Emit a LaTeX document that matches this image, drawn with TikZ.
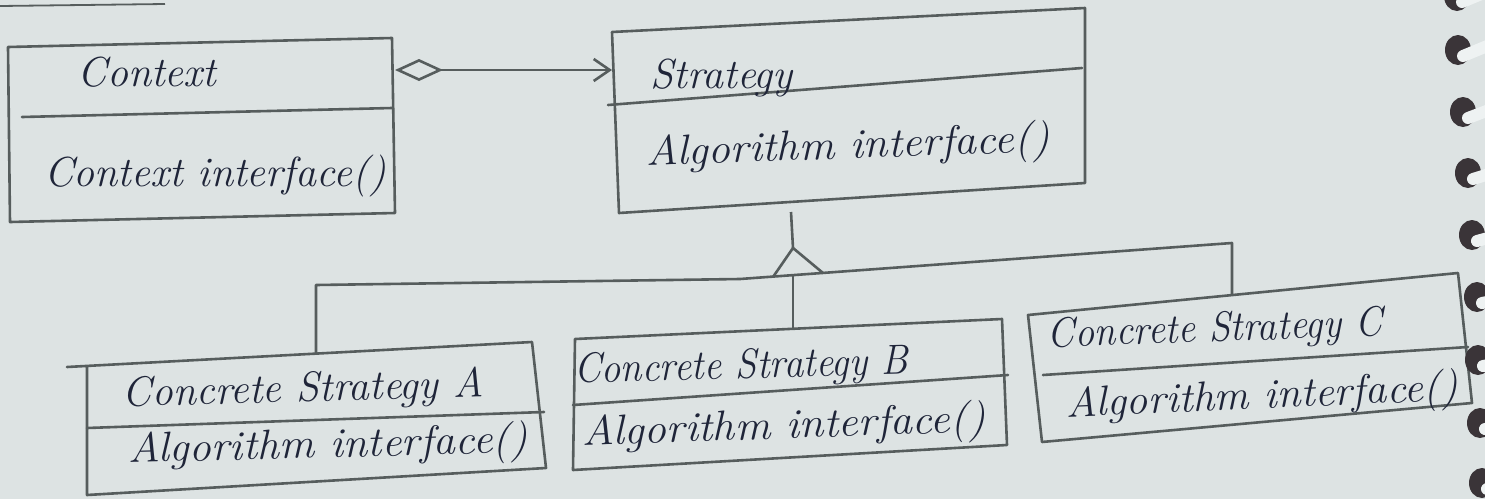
\documentclass[tikz,border=0pt]{standalone}
\usepackage{fontspec}
\usetikzlibrary{arrows.meta}
\definecolor{paper}{HTML}{DDE3E3}
\definecolor{pencil}{HTML}{565D5D}
\definecolor{ink}{HTML}{1F2539}
\definecolor{holedark}{HTML}{3A3438}
\definecolor{wirewhite}{HTML}{EEF2F2}
\begin{document}
\begin{tikzpicture}[x=0.5pt,y=-0.5pt,
  box/.style={draw=pencil,line width=1.3pt,line join=round,line cap=round},
  conn/.style={draw=pencil,line width=1.3pt,line join=round},
  lbl/.style={text=ink,font=\fontsize{21}{25}\selectfont\itshape,inner sep=0pt}]
% sheet of paper
\fill[paper] (0,0) rectangle (1485,499);
\useasboundingbox (0,0) rectangle (1485,499);
\draw[pencil,line width=0.9pt] (0,6) -- (165,4);

% ---- Context class ----
\coordinate (c1) at (8,47);   \coordinate (c2) at (392,38);
\coordinate (c3) at (395,213); \coordinate (c4) at (10,222);
\coordinate (cd1) at (22,117); \coordinate (cd2) at (392,108);
\draw[box] (c1) -- (c2) -- (c3) -- (c4) -- cycle;
\draw[box] (cd1) -- (cd2);
\node[lbl] (ctxTitle) at (147,72) {Context};
\node[lbl] (ctxOp) at (215,176) {Context interface()};

% ---- Strategy class ----
\coordinate (s1) at (612,32);  \coordinate (s2) at (1085,8);
\coordinate (s3) at (1085,183); \coordinate (s4) at (619,213);
\coordinate (sd1) at (608,105); \coordinate (sd2) at (1082,68);
\draw[box] (s1) -- (s2) -- (s3) -- (s4) -- cycle;
\draw[box] (sd1) -- (sd2);
\node[lbl,anchor=west] (strTitle) at (650,78) {Strategy};
\node[lbl,rotate=2,xscale=1.06] (strOp) at (848,148) {Algorithm interface()};

% ---- Concrete strategy A ----
\coordinate (a0) at (67,367);  \coordinate (a1) at (87,366);
\coordinate (a2) at (532,342); \coordinate (a3) at (546,468);
\coordinate (a4) at (87,495);
\coordinate (ad1) at (87,428); \coordinate (ad2) at (544,412);
\draw[box] (a0) -- (a2) -- (a3) -- (a4) -- (a1);
\draw[box] (ad1) -- (ad2);
\node[lbl,rotate=1.5] (aTitle) at (303,391) {Concrete Strategy A};
\node[lbl,rotate=1.5,xscale=1.05] (aOp) at (328,447) {Algorithm interface()};

% ---- Concrete strategy B ----
\coordinate (b1) at (575,339); \coordinate (b2) at (1002,319);
\coordinate (b3) at (1007,445); \coordinate (b4) at (573,470);
\coordinate (bd1) at (573,405); \coordinate (bd2) at (1008,375);
\draw[box] (b1) -- (b2) -- (b3) -- (b4) -- cycle;
\draw[box] (bd1) -- (bd2);
\node[lbl,rotate=1.5,xscale=0.93] (bTitle) at (741,368) {Concrete Strategy B};
\node[lbl,rotate=2,xscale=1.06] (bOp) at (784,428) {Algorithm interface()};

% ---- Concrete strategy C ----
\coordinate (k1) at (1028,315); \coordinate (k2) at (1458,273);
\coordinate (k3) at (1472,403); \coordinate (k4) at (1042,442);
\coordinate (kd1) at (1043,375); \coordinate (kd2) at (1468,347);
\draw[box] (k1) -- (k2) -- (k3) -- (k4) -- cycle;
\draw[box] (kd1) -- (kd2);
\node[lbl,rotate=2,xscale=0.93] (cTitle) at (1215,331) {Concrete Strategy C};
\node[lbl,rotate=2.5,xscale=1.03] (cOp) at (1262,398) {Algorithm interface()};

% ---- aggregation: Context holds a Strategy ----
\coordinate (ctxAgg) at (395,70);
\coordinate (strIn) at (612,70);
\draw[conn,{Diamond[open,length=24pt,width=11pt]}-{Straight Barb[length=8pt,width=11pt]}] (ctxAgg) -- (strIn);

% ---- generalisation tree ----
\coordinate (strBot) at (791,212);
\coordinate (apex) at (793,248);
\coordinate (busL) at (316,285);
\coordinate (busM) at (740,279);
\coordinate (busR) at (1232,243);
\coordinate (triL) at (773,277);
\coordinate (triR) at (823,273);
\coordinate (hubB) at (793,275);
\coordinate (aTop) at (316,354);
\coordinate (bTop) at (793,329);
\coordinate (cTop) at (1232,295);
\draw[conn] (strBot) -- (apex);
\draw[conn] (triL) -- (apex) -- (triR);
\draw[conn] (aTop) -- (busL) -- (busM) -- (busR) -- (cTop);
\draw[conn] (hubB) -- (bTop);

% ---- spiral binding along the right edge ----
\foreach \hx/\hy/\dy in {1457/-4/-12,1458/50/-12,1463/112/-11,1468/173/-9,1472/235/-8,1477/297/-6,1478/360/-5,1480/423/-4,1482/483/-3}{
  \fill[holedark] (\hx,\hy) ellipse [x radius=13, y radius=15];
  \draw[wirewhite,line width=6pt,line cap=round] (\hx+5,\hy+6) -- (\hx+34,\hy+6+\dy);
}
\end{tikzpicture}
\end{document}
